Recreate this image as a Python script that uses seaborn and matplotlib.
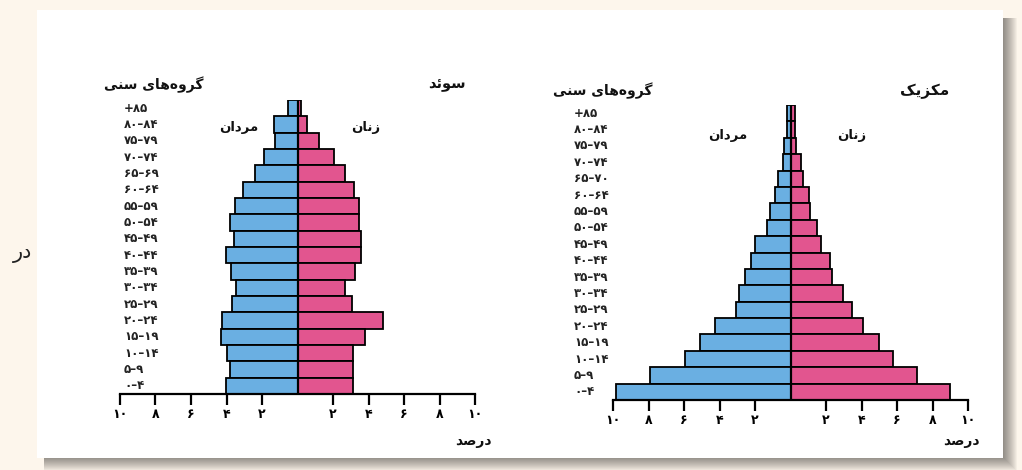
import matplotlib
matplotlib.use("Agg")
import matplotlib.pyplot as plt
from matplotlib.patches import Rectangle
from matplotlib.transforms import blended_transform_factory
import pandas as pd
import seaborn as sns

# داده‌ها (درصد جمعیت هر گروه سنی)
ages_sweden = ['+۸۵', '۸۰–۸۴', '۷۵–۷۹', '۷۰–۷۴', '۶۵–۶۹', '۶۰–۶۴', '۵۵–۵۹', '۵۰–۵۴', '۴۵–۴۹',
               '۴۰–۴۴', '۳۵–۳۹', '۳۰–۳۴', '۲۵–۲۹', '۲۰–۲۴', '۱۵–۱۹', '۱۰–۱۴', '۵–۹', '۰–۴']
ages_mexico = ['+۸۵', '۸۰–۸۴', '۷۵–۷۹', '۷۰–۷۴', '۶۵–۷۰', '۶۰–۶۴', '۵۵–۵۹', '۵۰–۵۴', '۴۵–۴۹',
               '۴۰–۴۴', '۳۵–۳۹', '۳۰–۳۴', '۲۵–۲۹', '۲۰–۲۴', '۱۵–۱۹', '۱۰–۱۴', '۵–۹', '۰–۴']
sweden_men = [0.55, 1.3, 1.25, 1.9, 2.4, 3.05, 3.5, 3.8, 3.6, 4.05, 3.75, 3.45, 3.7, 4.25, 4.3, 4.0, 3.8, 4.05]
sweden_women = [0.2, 0.55, 1.2, 2.05, 2.65, 3.2, 3.45, 3.45, 3.55, 3.6, 3.25, 2.65, 3.05, 4.8, 3.8, 3.15, 3.15, 3.15]
mexico_men = [0.2, 0.2, 0.35, 0.45, 0.7, 0.9, 1.15, 1.35, 2.0, 2.25, 2.55, 2.9, 3.05, 4.25, 5.1, 5.95, 7.9, 9.85]
mexico_women = [0.25, 0.25, 0.3, 0.6, 0.7, 1.05, 1.1, 1.5, 1.7, 2.2, 2.35, 2.95, 3.45, 4.1, 5.0, 5.8, 7.1, 9.0]
ticks = [-10, -8, -6, -4, -2, 2, 4, 6, 8, 10]
tick_labels = ['۱۰', '۸', '۶', '۴', '۲', '۲', '۴', '۶', '۸', '۱۰']

BLUE = '#6aafe2'
PINK = '#e2558f'

# شکل‌دهی حروف فارسی (matplotlib اتصال حروف را انجام نمی‌دهد)
FORMS = {
    'ا': ('\uFE8D', '\uFE8E', None, None),
    'د': ('\uFEA9', '\uFEAA', None, None),
    'ر': ('\uFEAD', '\uFEAE', None, None),
    'ز': ('\uFEAF', '\uFEB0', None, None),
    'و': ('\uFEED', '\uFEEE', None, None),
    'س': ('\uFEB1', '\uFEB2', '\uFEB3', '\uFEB4'),
    'ص': ('\uFEB9', '\uFEBA', '\uFEBB', '\uFEBC'),
    'م': ('\uFEE1', '\uFEE2', '\uFEE3', '\uFEE4'),
    'ن': ('\uFEE5', '\uFEE6', '\uFEE7', '\uFEE8'),
    'ه': ('\uFEE9', '\uFEEA', '\uFEEB', '\uFEEC'),
    'ئ': ('\uFE89', '\uFE8A', '\uFE8B', '\uFE8C'),
    'ی': ('\uFBFC', '\uFBFD', '\uFBFE', '\uFBFF'),
    'ک': ('\uFB8E', '\uFB8F', '\uFB90', '\uFB91'),
    'گ': ('\uFB92', '\uFB93', '\uFB94', '\uFB95'),
}


def fa(s):
    out = []
    for i, ch in enumerate(s):
        f = FORMS.get(ch)
        if f is None:
            if ch != '\u200c':
                out.append(ch)
            continue
        prev = s[i - 1] if i > 0 else ''
        nxt = s[i + 1] if i + 1 < len(s) else ''
        jp = prev in FORMS and FORMS[prev][2] is not None
        jn = f[2] is not None and nxt in FORMS
        if jp and jn:
            out.append(f[3])
        elif jp:
            out.append(f[1])
        elif jn:
            out.append(f[2])
        else:
            out.append(f[0])
    return ''.join(reversed(out))


plt.rcParams['font.family'] = ['DejaVu Sans']

W, H = 1022, 470
fig = plt.figure(figsize=(W / 100, H / 100), dpi=100, facecolor='#fdf6ec')


def fx(x):
    return x / W


def fy(y):
    return 1 - y / H


# پس‌زمینه: کادر سفید با سایه
bg = fig.add_axes([0, 0, 1, 1], zorder=-5)
bg.set_xlim(0, W)
bg.set_ylim(H, 0)
bg.axis('off')
for k in range(14):
    bg.add_patch(Rectangle((44, 18), 1003 - 44 + 14 - k, 458 - 18 + 13 - k,
                           facecolor='black', edgecolor='none', alpha=0.035))
bg.add_patch(Rectangle((37, 10), 1003 - 37, 458 - 10, facecolor='white', edgecolor='none'))
bg.text(22, 253, fa('در'), ha='center', va='center', fontsize=15, color='#222222')


def pyramid(rect, ages, men, women, age_x, labels):
    ax = fig.add_axes(rect)
    ax.patch.set_alpha(0)
    df = pd.DataFrame({
        'age': ages * 2,
        'value': [-v for v in men] + list(women),
        'sex': ['men'] * len(ages) + ['women'] * len(ages),
    })
    sns.barplot(data=df, x='value', y='age', hue='sex', order=ages, hue_order=['men', 'women'],
                palette=[BLUE, PINK], saturation=1, dodge=False, orient='h', width=1.0,
                edgecolor='black', linewidth=1.3, legend=False, ax=ax)
    ax.axvline(0, color='black', lw=1.6, zorder=5)
    ax.set_xlim(-10, 10)
    ax.set_ylim(len(ages) - 0.5, -0.5)
    ax.set_yticks([])
    ax.set_xlabel('')
    ax.set_ylabel('')
    for s in ['top', 'right', 'left']:
        ax.spines[s].set_visible(False)
    ax.spines['bottom'].set_linewidth(1.6)
    ax.spines['bottom'].set_color('black')
    ax.set_xticks(ticks)
    ax.set_xticklabels(tick_labels, fontsize=9, fontweight='bold')
    ax.tick_params(axis='x', direction='out', length=8, width=1.6, pad=2, colors='black')
    tr = blended_transform_factory(fig.transFigure, ax.transData)
    for i, a in enumerate(ages):
        ax.text(fx(age_x), i, a, transform=tr, ha='left', va='center',
                fontsize=8.5, fontweight='bold', color='#222222', clip_on=False)
    for x, y, txt, size in labels:
        fig.text(fx(x), fy(y), fa(txt), ha='center', va='center', fontsize=size,
                 fontweight='bold', color='#111111')
    return ax


# سوئد
pyramid([fx(120), fy(394), 355 / W, (394 - 100) / H], ages_sweden, sweden_men, sweden_women, 124,
        [(154, 85, 'گروه‌های سنی', 10), (447, 85, 'سوئد', 10.5),
         (239, 128, 'مردان', 9.5), (366, 128, 'زنان', 9.5), (473, 441, 'درصد', 10)])

# مکزیک
pyramid([fx(613), fy(400), 355 / W, (400 - 105) / H], ages_mexico, mexico_men, mexico_women, 574,
        [(603, 91, 'گروه‌های سنی', 10), (925, 91, 'مکزیک', 11),
         (728, 135, 'مردان', 9.5), (852, 135, 'زنان', 9.5), (961, 441, 'درصد', 10)])

plt.savefig('out.png', dpi=100, facecolor=fig.get_facecolor())
